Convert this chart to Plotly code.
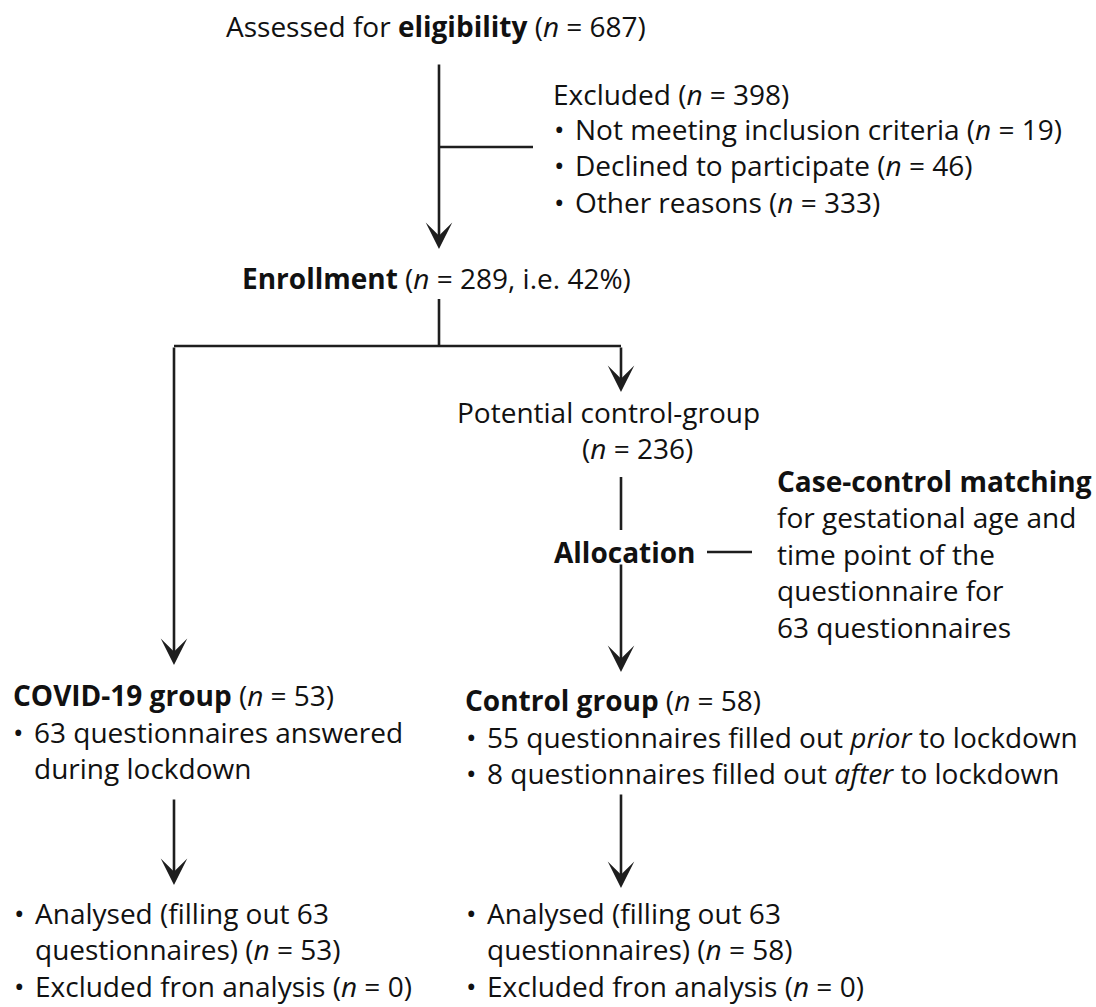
import plotly.graph_objects as go

# ---------------- data (counts shown in the flow diagram) ----------------
n_assessed = 687
n_excluded = 398
excl_reasons = ["Not meeting inclusion criteria", "Declined to participate", "Other reasons"]
excl_counts = [19, 46, 333]
n_enrolled = 289
pct_enrolled = 42
n_potential = 236
group_names = ["COVID-19 group", "Control group"]
group_n = [53, 58]
n_questionnaires = 63
ctrl_timing = ["prior", "after"]
ctrl_timing_counts = [55, 8]
analysed_n = [53, 58]
excluded_analysis_n = [0, 0]
matching_lines = ["for gestational age and", "time point of the",
                  "questionnaire for", "63 questionnaires"]

# ---------------- styling ----------------
W, H = 1096, 1007
FONT = "Open Sans"
FS = 28
LSP = 1.3 * FS          # plotly line spacing for <br>
TXT = "#111111"
LINE = "#1e1e1e"
LW = 2.6

fig = go.Figure()
ann = []
shapes = []


def block(x, y_first, lines, anchor="left"):
    """Multi-line text; y_first = centre of the first line."""
    yc = y_first + (len(lines) - 1) * LSP / 2
    ann.append(dict(x=x, y=yc, xref="x", yref="y", text="<br>".join(lines),
                    showarrow=False, xanchor=anchor, yanchor="middle", align=anchor,
                    borderpad=0, font=dict(family=FONT, size=FS, color=TXT)))


def bullets(xb, xt, y_first, lines, marks):
    block(xb, y_first, ["•" if m else "&nbsp;" for m in marks])
    block(xt, y_first, lines)


def line(x0, y0, x1, y1):
    shapes.append(dict(type="line", x0=x0, y0=y0, x1=x1, y1=y1, xref="x", yref="y",
                       line=dict(color=LINE, width=LW)))


def arrow(x, y0, y1):
    ann.append(dict(x=x, y=y1, ax=x, ay=y0, xref="x", yref="y", axref="x", ayref="y",
                    text="", showarrow=True, arrowhead=3, arrowsize=1.7,
                    arrowwidth=LW, arrowcolor=LINE, standoff=0, startstandoff=0))


ni = "<i>n</i>"

# Top
block(436, 26, [f"Assessed for <b>eligibility</b> ({ni} = {n_assessed})"], "center")
arrow(439, 63, 249)
line(439, 147, 533, 147)
block(552, 94, [f"Excluded ({ni} = {n_excluded})"])
bullets(553, 574, 129,
        [f"{r} ({ni} = {c})" for r, c in zip(excl_reasons, excl_counts)],
        [1, 1, 1])

# Enrollment
block(436, 278, [f"<b>Enrollment</b> ({ni} = {n_enrolled}, i.e. {pct_enrolled}%)"], "center")
line(439, 299, 439, 346)
line(174, 346, 621, 346)
arrow(174, 346, 665)
arrow(621, 346, 392)

# Potential control group
pad = "&nbsp;" * 8
block(608, 412, ["Potential control-group", f"{pad}({ni} = {n_potential})"], "center")
line(621, 477, 621, 530)
block(697, 552, ["<b>Allocation</b>"], "right")
line(707, 552, 752, 552)
arrow(621, 563, 672)

block(776, 481, ["<b>Case-control matching</b>"] + matching_lines)

# COVID-19 group
block(12, 695, [f"<b>{group_names[0]}</b> ({ni} = {group_n[0]})"])
bullets(12, 33, 732, [f"{n_questionnaires} questionnaires answered", "during lockdown"], [1, 0])
arrow(174, 798, 885)

# Control group
block(464, 700, [f"<b>{group_names[1]}</b> ({ni} = {group_n[1]})"])
bullets(465, 486, 737,
        [f"{c} questionnaires filled out <i>{t}</i> to lockdown"
         for c, t in zip(ctrl_timing_counts, ctrl_timing)],
        [1, 1])
arrow(621, 793, 888)

# Analysed
for xb, xt, na, ne in [(13, 34, analysed_n[0], excluded_analysis_n[0]),
                       (465, 486, analysed_n[1], excluded_analysis_n[1])]:
    bullets(xb, xt, 913,
            [f"Analysed (filling out {n_questionnaires}",
             f"questionnaires) ({ni} = {na})",
             f"Excluded fron analysis ({ni} = {ne})"],
            [1, 0, 1])

fig.update_layout(
    width=W, height=H, margin=dict(l=0, r=0, t=0, b=0),
    paper_bgcolor="white", plot_bgcolor="white",
    xaxis=dict(range=[0, W], visible=False, fixedrange=True),
    yaxis=dict(range=[H, 0], visible=False, fixedrange=True),
    annotations=ann, shapes=shapes, showlegend=False,
)
fig.write_html("out.html", config={"displayModeBar": False},
               post_script="document.body.style.margin='0';document.body.style.overflow='hidden';")
